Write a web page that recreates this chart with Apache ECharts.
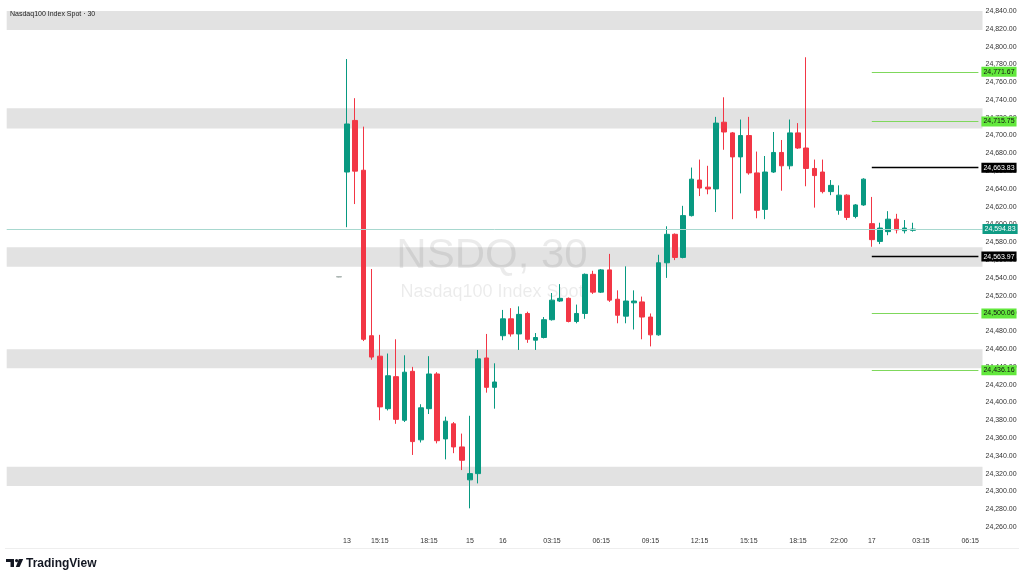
<!DOCTYPE html>
<html><head><meta charset="utf-8">
<script src="https://cdn.jsdelivr.net/npm/echarts@6/dist/echarts.min.js"></script>
<style>html,body{margin:0;padding:0;background:#fff}#c{width:1024px;height:580px}</style>
</head><body><div id="c"></div>
<script>
// candles: [open, close, low, high] (30-minute bars)
const candles = [
  [24541.0, 24541.4, 24540.6, 24541.6],
  [24659, 24713, 24597, 24786],
  [24717, 24660, 24623, 24742],
  [24661, 24471, 24469, 24710],
  [24475, 24451, 24448, 24550],
  [24452, 24395, 24380, 24476],
  [24393, 24430, 24391, 24455],
  [24429, 24381, 24376, 24471],
  [24380, 24434, 24378, 24453],
  [24435, 24356, 24341, 24440],
  [24358, 24394, 24355, 24398],
  [24393, 24432, 24387, 24452],
  [24432, 24357, 24354, 24434],
  [24359, 24379, 24336, 24384],
  [24376, 24350, 24343, 24378],
  [24350, 24335, 24324, 24365],
  [24313, 24320, 24281, 24385],
  [24320, 24449, 24309, 24459],
  [24450, 24417, 24411, 24477],
  [24417, 24423, 24393, 24444],
  [24475, 24494, 24470, 24504],
  [24494, 24477, 24474, 24506],
  [24477, 24499, 24459, 24508],
  [24500, 24471, 24467, 24502],
  [24470, 24473, 24459, 24478],
  [24473, 24493, 24472, 24496],
  [24493, 24515, 24492, 24523],
  [24514, 24517, 24513, 24533],
  [24517, 24491, 24490, 24518],
  [24491, 24500, 24489, 24510],
  [24500, 24544, 24494, 24545],
  [24544, 24524, 24522, 24548],
  [24524, 24549, 24523, 24550],
  [24549, 24515, 24513, 24567],
  [24516, 24498, 24489, 24526],
  [24497, 24514, 24489, 24553],
  [24512, 24514, 24482, 24526],
  [24513, 24496, 24471, 24519],
  [24496, 24476, 24463, 24500],
  [24476, 24557, 24475, 24566],
  [24557, 24589, 24540, 24598],
  [24589, 24563, 24560, 24590],
  [24563, 24610, 24562, 24621],
  [24610, 24651, 24609, 24664],
  [24650, 24641, 24632, 24673],
  [24642, 24640, 24634, 24666],
  [24640, 24714, 24614, 24721],
  [24715, 24704, 24684, 24743],
  [24703, 24676, 24606, 24704],
  [24676, 24700, 24635, 24718],
  [24700, 24658, 24656, 24721],
  [24658, 24616, 24607, 24682],
  [24617, 24659, 24606, 24677],
  [24659, 24681, 24658, 24704],
  [24681, 24666, 24638, 24695],
  [24666, 24703, 24662, 24718],
  [24703, 24686, 24685, 24714],
  [24686, 24663, 24643, 24788],
  [24663, 24655, 24619, 24673],
  [24659, 24637, 24635, 24673],
  [24637, 24644, 24633, 24650],
  [24616, 24633, 24611, 24644],
  [24633, 24608, 24605, 24634],
  [24609, 24622, 24607, 24623],
  [24622, 24651, 24621, 24652],
  [24601, 24583, 24575, 24631],
  [24581, 24596, 24578, 24602],
  [24592, 24606, 24588, 24615],
  [24606, 24594, 24590, 24612],
  [24593, 24596, 24590, 24605],
  [24593.5, 24594.83, 24592, 24602]
];
// time-axis tick labels: [candle index, text]
const tickLabels = [
  [1, '13'], [5, '15:15'], [11, '18:15'], [16, '15'], [20, '16'],
  [26, '03:15'], [32, '06:15'], [38, '09:15'], [44, '12:15'], [50, '15:15'],
  [56, '18:15'], [61, '22:00'], [65, '17'], [71, '03:15'], [77, '06:15']
];
// grey zones: [upper, lower]
const zones = [
  [24840, 24818.7], [24730.6, 24708], [24574.4, 24552.6], [24459.7, 24438.4], [24327.8, 24306]
];
const greenLevels = [24771.67, 24715.75, 24500.06, 24436.16];
const blackLevels = [24663.83, 24563.97];
const lastPrice = 24594.83;
const priceMin = 24250, priceMax = 24850;

const SLOT_COUNT = 119, FIRST_SLOT = 40, LEVEL_START = 65;
const FONT = 'Liberation Sans, Arial, sans-serif';
const fmt = v => v.toLocaleString('en-US', {minimumFractionDigits: 2, maximumFractionDigits: 2});

const cats = [], seriesData = [];
for (let s = 0; s < SLOT_COUNT; s++) {
  cats.push('s' + s);
  const i = s - FIRST_SLOT;
  if (i >= 0 && i < candles.length) {
    if (i === 0) seriesData.push({value: candles[i], itemStyle: {color: '#a9b3b0', color0: '#a9b3b0', borderColor: '#a9b3b0', borderColor0: '#a9b3b0'}});
    else seriesData.push(candles[i]);
  } else seriesData.push('-');
}
const labelBySlot = {};
tickLabels.forEach(([i, t]) => { labelBySlot[FIRST_SLOT + i] = t; });

function tag(v, bg, fg) {
  return {show: true, position: 'end', distance: 3, formatter: fmt(v), backgroundColor: bg, color: fg,
    fontSize: 7, fontFamily: FONT, padding: [1, 2, 1, 2], lineHeight: 8};
}
const lineData = [];
lineData.push({yAxis: lastPrice, lineStyle: {color: '#a8d8cf', width: 1, type: 'solid'},
  label: Object.assign(tag(lastPrice, '#0f9b84', '#fff'), {distance: 0})});
greenLevels.forEach(v => lineData.push([
  {coord: [cats[FIRST_SLOT + LEVEL_START], v], lineStyle: {color: '#7fd85c', width: 1.2, type: 'solid'}, label: tag(v, '#62e83c', '#111')},
  {coord: [cats[SLOT_COUNT - 1], v]}
]));
blackLevels.forEach(v => lineData.push([
  {coord: [cats[FIRST_SLOT + LEVEL_START], v], lineStyle: {color: '#000', width: 1.4, type: 'solid'}, label: tag(v, '#000', '#fff')},
  {coord: [cats[SLOT_COUNT - 1], v]}
]));

const chart = echarts.init(document.getElementById('c'), null, {renderer: 'canvas'});
chart.setOption({
  animation: false,
  backgroundColor: '#ffffff',
  grid: {left: 6.7, right: 41.5, top: 2.1, bottom: 44.1, containLabel: false, outerBoundsMode: 'none'},
  xAxis: {
    type: 'category', data: cats, boundaryGap: true,
    axisLine: {show: false}, axisTick: {show: false}, splitLine: {show: false},
    axisLabel: {interval: (idx) => labelBySlot[idx] !== undefined, formatter: (v, idx) => labelBySlot[idx] || '',
      fontSize: 7, fontFamily: FONT, color: '#333', margin: 2}
  },
  yAxis: {
    type: 'value', position: 'right', min: priceMin, max: priceMax, interval: 10,
    axisLine: {show: false}, axisTick: {show: false}, splitLine: {show: false},
    axisLabel: {fontSize: 7, fontFamily: FONT, color: '#333', margin: 3,
      formatter: v => (Math.round(v) % 20 === 0 ? fmt(v) : '')}
  },
  graphic: [
    {type: 'text', z: 1, x: 492, y: 256, silent: true,
      style: {text: 'NSDQ, 30', fontSize: 42, fontFamily: FONT, fill: 'rgba(0,0,0,0.08)', align: 'center', verticalAlign: 'middle', textAlign: 'center', textVerticalAlign: 'middle'}},
    {type: 'text', z: 1, x: 492, y: 292, silent: true,
      style: {text: 'Nasdaq100 Index Spot', fontSize: 18, fontFamily: FONT, fill: 'rgba(0,0,0,0.08)', align: 'center', verticalAlign: 'middle', textAlign: 'center', textVerticalAlign: 'middle'}},
    {type: 'text', z: 10, x: 10, y: 14.5, silent: true,
      style: {text: 'Nasdaq100 Index Spot · 30', fontSize: 7, fontFamily: FONT, fill: '#222', verticalAlign: 'middle', textVerticalAlign: 'middle'}},
    {type: 'line', z: 10, silent: true, shape: {x1: 5, y1: 548.5, x2: 1019, y2: 548.5}, style: {stroke: '#eeeeee', lineWidth: 1}},
    {type: 'rect', z: 10, silent: true, shape: {x: 6, y: 559, width: 8, height: 3}, style: {fill: '#131722'}},
    {type: 'rect', z: 10, silent: true, shape: {x: 10.5, y: 559, width: 3.5, height: 8}, style: {fill: '#131722'}},
    {type: 'circle', z: 10, silent: true, shape: {cx: 16.6, cy: 560.6, r: 1.6}, style: {fill: '#131722'}},
    {type: 'polygon', z: 10, silent: true, shape: {points: [[18.8, 559], [23.2, 559], [19.6, 567], [15.8, 567]]}, style: {fill: '#131722'}},
    {type: 'text', z: 10, x: 26, y: 563.5, silent: true,
      style: {text: 'TradingView', fontSize: 12, fontWeight: 'bold', fontFamily: FONT, fill: '#131722', verticalAlign: 'middle', textVerticalAlign: 'middle'}}
  ],
  series: [{
    type: 'candlestick', z: 2, barWidth: 5,
    data: seriesData,
    itemStyle: {color: '#089981', color0: '#F23645', borderColor: '#089981', borderColor0: '#F23645', borderWidth: 1},
    markArea: {silent: true, z: 0.5, itemStyle: {color: '#e2e2e2', borderWidth: 0},
      data: zones.map(([a, b]) => [{yAxis: a}, {yAxis: b}])},
    markLine: {silent: true, symbol: ['none', 'none'], z: 5, data: lineData}
  }]
});
</script></body></html>
